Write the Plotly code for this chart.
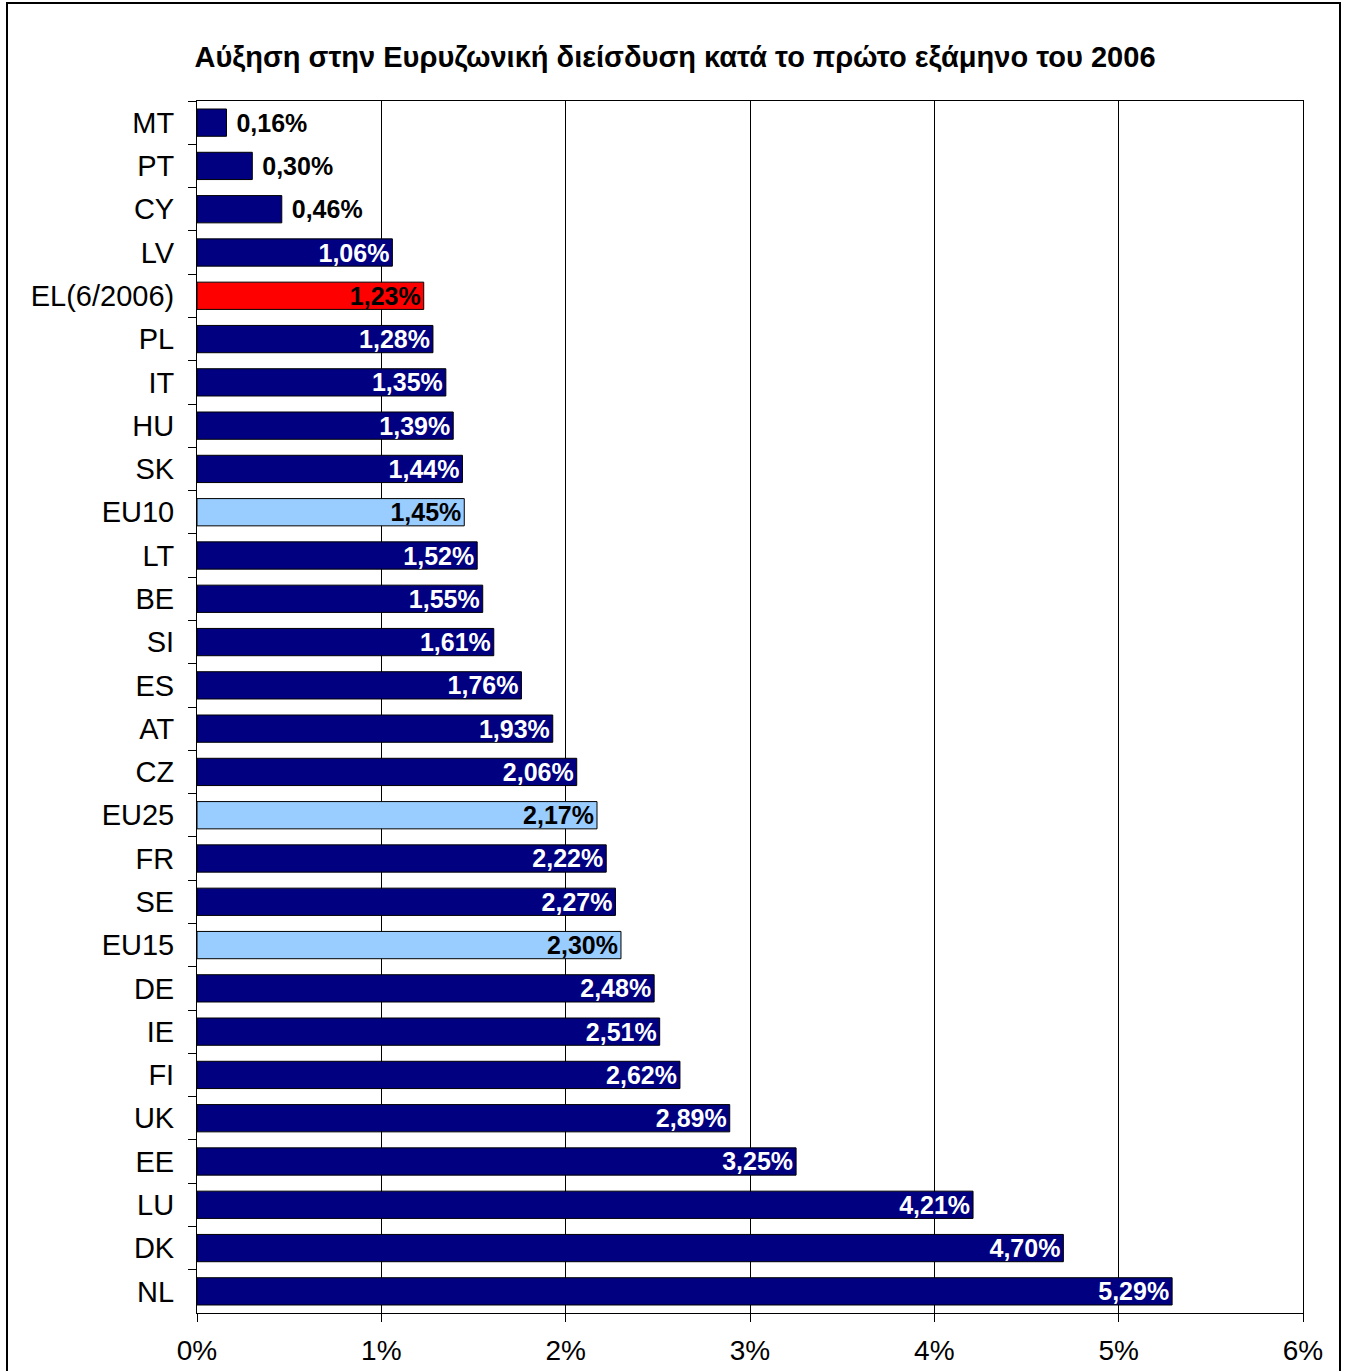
import plotly.graph_objects as go

countries = ["MT", "PT", "CY", "LV", "EL(6/2006)", "PL", "IT", "HU", "SK", "EU10", "LT", "BE", "SI", "ES",
             "AT", "CZ", "EU25", "FR", "SE", "EU15", "DE", "IE", "FI", "UK", "EE", "LU", "DK", "NL"]
values = [0.16, 0.30, 0.46, 1.06, 1.23, 1.28, 1.35, 1.39, 1.44, 1.45, 1.52, 1.55, 1.61, 1.76,
          1.93, 2.06, 2.17, 2.22, 2.27, 2.30, 2.48, 2.51, 2.62, 2.89, 3.25, 4.21, 4.70, 5.29]
x_ticks = [0, 1, 2, 3, 4, 5, 6]
x_tick_labels = ["0%", "1%", "2%", "3%", "4%", "5%", "6%"]
title = "Αύξηση στην Ευρυζωνική διείσδυση κατά το πρώτο εξάμηνο του 2006"

NAVY, RED, LIGHT = "#000080", "#FF0000", "#99CCFF"
FONT = "Liberation Sans, Arial"
colors, text_colors, positions, labels = [], [], [], []
for c, v in zip(countries, values):
    if c.startswith("EL"):
        colors.append(RED); text_colors.append("black")
    elif c.startswith("EU"):
        colors.append(LIGHT); text_colors.append("black")
    else:
        colors.append(NAVY); text_colors.append("white")
    lab = f"{v:.2f}%".replace(".", ",")
    if v < 0.6:
        positions.append("outside")
        text_colors[-1] = "black"
        lab = " " + lab
    else:
        positions.append("inside")
    labels.append(lab)

fig = go.Figure(go.Bar(
    x=values, y=countries, orientation="h",
    marker=dict(color=colors, line=dict(color="black", width=1)),
    text=labels, textposition=positions, insidetextanchor="end",
    textfont=dict(family=FONT, size=25, color=text_colors, weight="bold"),
    constraintext="none", cliponaxis=False,
))

W, H = 1347, 1371
L, R, T, B = 197, 44, 101, 58
pw, ph = W - L - R, H - T - B

def px(x):
    return (x - L) / pw

def py(y):
    return (H - B - y) / ph

fig.update_layout(
    width=W, height=H,
    margin=dict(l=L, r=R, t=T, b=B, autoexpand=False),
    paper_bgcolor="white", plot_bgcolor="white",
    bargap=0.37, showlegend=False,
    font=dict(family=FONT, color="black"),
    title=dict(text=title, x=675 / W, xanchor="center", y=1 - 57 / H, yanchor="middle",
               font=dict(size=29, weight="bold", family=FONT), automargin=False),
    xaxis=dict(range=[0, 6], tickvals=x_ticks, ticktext=x_tick_labels,
               showgrid=True, gridcolor="black", gridwidth=1,
               showline=True, linecolor="black", linewidth=1, mirror=True,
               ticks="outside", ticklen=8, tickcolor="black", automargin=False,
               tickfont=dict(size=28), zeroline=False, ticklabelstandoff=4),
    yaxis=dict(autorange="reversed", showgrid=False, automargin=False,
               showline=True, linecolor="black", linewidth=1, mirror=True,
               ticks="outside", ticklen=8, tickcolor="black", tickson="boundaries",
               tickfont=dict(size=29), ticklabelstandoff=16),
    shapes=[dict(type="rect", xref="paper", yref="paper",
                 x0=px(7), x1=px(1340), y0=py(1380), y1=py(3),
                 line=dict(color="black", width=2), fillcolor="rgba(0,0,0,0)", layer="below")],
)

fig.write_html("out.html", post_script="document.body.style.margin='0';",
               config={"displayModeBar": False})
